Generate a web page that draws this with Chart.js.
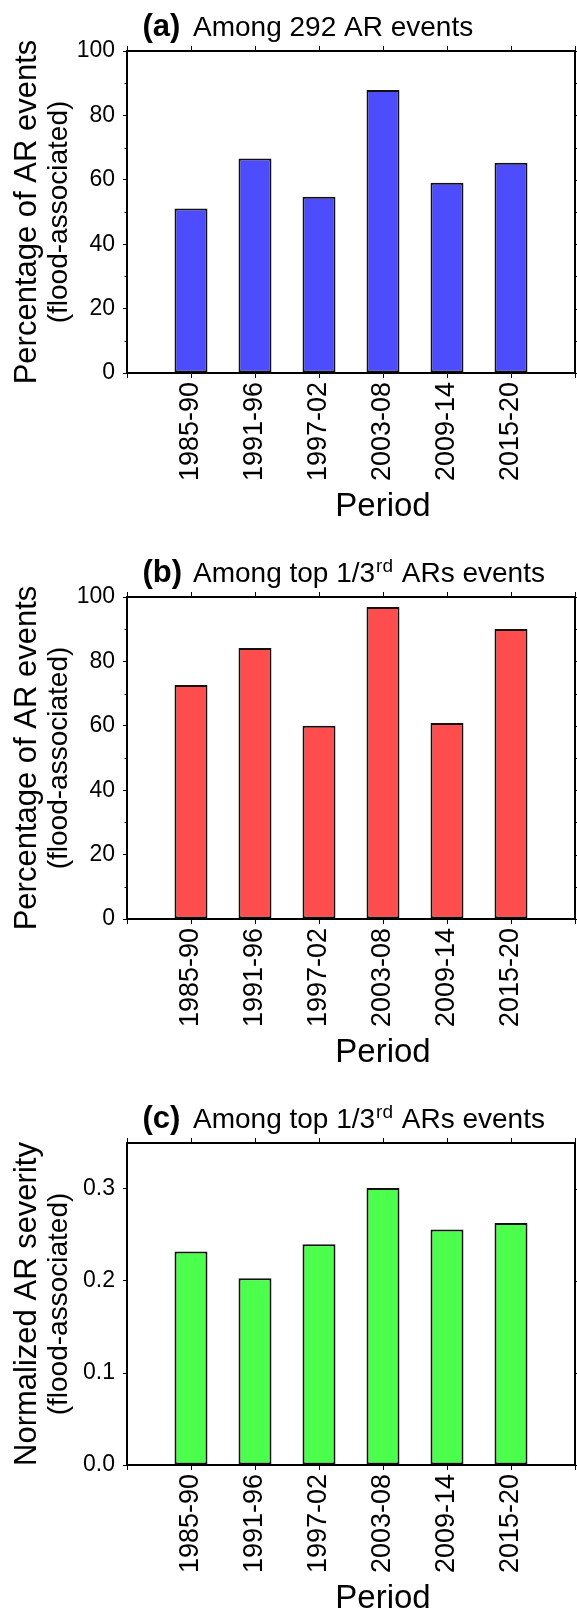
<!DOCTYPE html>
<html>
<head>
<meta charset="utf-8">
<script src="https://cdn.jsdelivr.net/npm/chart.js@4.4.1/dist/chart.umd.min.js"></script>
<style>
body{margin:0;background:#fff}
canvas{display:block}
</style>
</head>
<body>
<canvas id="chartA" width="577" height="546"></canvas>
<canvas id="chartB" width="577" height="546"></canvas>
<canvas id="chartC" width="577" height="522"></canvas>
<script>
// values
var periods = ['1985-90', '1991-96', '1997-02', '2003-08', '2009-14', '2015-20']
var pctAllAR = [51.1, 66.6, 54.7, 87.9, 59.1, 65.3]
var pctTopAR = [72.7, 84.2, 60.0, 96.9, 60.9, 90.1]
var severityTopAR = [0.232, 0.203, 0.240, 0.301, 0.256, 0.263]
var pctTicks = [0, 20, 40, 60, 80, 100]
var pctMinor = [10, 30, 50, 70, 90]
var sevTicks = [0, 0.1, 0.2, 0.3]

var FONT = "'Liberation Sans', Arial, Helvetica, sans-serif"

// frame, extra ticks and all the GMT style text
var deco = {
    id: 'deco',
    afterDraw: function (chart) {
        var ctx = chart.ctx, a = chart.chartArea
        var xs = chart.scales.x, ys = chart.scales.y
        var o = chart.options.plugins.deco
        ctx.save()
        ctx.strokeStyle = '#000'
        ctx.lineWidth = 2
        ctx.beginPath()
        ctx.moveTo(a.left - 1, a.top)
        ctx.lineTo(a.right, a.top)
        ctx.lineTo(a.right, a.bottom + 1)
        ctx.stroke()

        ctx.lineWidth = 1
        ctx.beginPath()
        for (var v = 0; v <= 7; v++) {
            var px = Math.round(xs.getPixelForValue(v)) + 0.5
            ctx.moveTo(px, a.top)
            ctx.lineTo(px, a.top - 5)
        }
        o.minor.forEach(function (m) {
            var py = Math.round(ys.getPixelForValue(m)) + 0.5
            ctx.moveTo(a.left - 2.5, py)
            ctx.lineTo(a.left, py)
        })
        o.minor.concat(o.major).forEach(function (m) {
            var py = Math.round(ys.getPixelForValue(m)) + 0.5
            ctx.moveTo(a.right, py)
            ctx.lineTo(a.right + 3, py)
        })
        ctx.stroke()

        // panel title
        ctx.fillStyle = '#000'
        ctx.textBaseline = 'alphabetic'
        ctx.textAlign = 'left'
        ctx.font = 'bold 31px ' + FONT
        ctx.fillText(o.tag, 142.5, 36)
        var x = 193
        o.title.forEach(function (part) {
            if (typeof part == 'object') {
                ctx.font = '19px ' + FONT
                ctx.fillText(part.sup, x + 1, 26)
                x += ctx.measureText(part.sup).width + 2
            } else {
                ctx.font = '28px ' + FONT
                ctx.fillText(part, x, 36)
                x += ctx.measureText(part).width
            }
        })

        // y axis title, two lines
        var cy = (a.top + a.bottom) / 2
        ctx.save()
        ctx.translate(36, cy)
        ctx.rotate(-Math.PI / 2)
        ctx.textAlign = 'center'
        ctx.font = '31px ' + FONT
        ctx.fillText(o.ytitle, 0, 0)
        ctx.restore()
        ctx.save()
        ctx.translate(67, cy)
        ctx.rotate(-Math.PI / 2)
        ctx.textAlign = 'center'
        ctx.font = '28px ' + FONT
        ctx.fillText('(flood-associated)', 0, 0)
        ctx.restore()

        // x axis title
        ctx.textAlign = 'center'
        ctx.font = '33px ' + FONT
        ctx.fillText('Period', xs.getPixelForValue(4), 516)
        ctx.restore()
    }
}

function makePanel(id, o) {
    var h = document.getElementById(id).height
    return new Chart(document.getElementById(id), {
        type: 'bar',
        data: {
            datasets: [{
                data: o.values.map(function (v, i) { return { x: i + 1, y: v } }),
                backgroundColor: o.color,
                borderColor: '#111',
                borderWidth: 2,
                borderSkipped: false,
                barPercentage: 0.515,
                categoryPercentage: 1
            }]
        },
        options: {
            responsive: false,
            animation: false,
            layout: { padding: { top: 51, right: 2, left: 0, bottom: 0 } },
            plugins: {
                legend: { display: false },
                tooltip: { enabled: false },
                deco: o.deco
            },
            scales: {
                x: {
                    type: 'linear', min: 0, max: 7, offset: false,
                    ticks: {
                        stepSize: 1, autoSkip: false, minRotation: 90, maxRotation: 90,
                        padding: 4, color: '#000', font: { family: FONT, size: 27 },
                        callback: function (v) { return periods[v - 1] || '' }
                    },
                    grid: { offset: false, drawOnChartArea: false, drawTicks: true, tickLength: 5, tickColor: '#000', tickWidth: 1 },
                    border: { display: true, color: '#000', width: 2 },
                    afterFit: function (s) { s.height = h - 373; s.paddingLeft = 0; s.paddingRight = 0 }
                },
                y: {
                    min: 0, max: o.max,
                    afterBuildTicks: function (s) { s.ticks = o.deco.major.map(function (v) { return { value: v } }) },
                    ticks: {
                        padding: 8, color: '#000', font: { family: FONT, size: 23 },
                        callback: o.fmt
                    },
                    grid: { drawOnChartArea: false, drawTicks: true, tickLength: 4, tickColor: '#000', tickWidth: 1 },
                    border: { display: true, color: '#000', width: 2 },
                    afterFit: function (s) { s.width = 127; s.paddingTop = 0; s.paddingBottom = 0 }
                }
            }
        },
        plugins: [deco]
    })
}

var topTitle = ['Among top 1/3', { sup: 'rd' }, ' ARs events']

makePanel('chartA', {
    values: pctAllAR, color: 'rgb(77,77,255)', max: 100,
    fmt: function (v) { return String(v) },
    deco: { tag: '(a)', title: ['Among 292 AR events'], ytitle: 'Percentage of AR events', major: pctTicks, minor: pctMinor }
})
makePanel('chartB', {
    values: pctTopAR, color: 'rgb(255,77,77)', max: 100,
    fmt: function (v) { return String(v) },
    deco: { tag: '(b)', title: topTitle, ytitle: 'Percentage of AR events', major: pctTicks, minor: pctMinor }
})
makePanel('chartC', {
    values: severityTopAR, color: 'rgb(77,255,77)', max: 0.35,
    fmt: function (v) { return v.toFixed(1) },
    deco: { tag: '(c)', title: topTitle, ytitle: 'Normalized AR severity', major: sevTicks, minor: [] }
})
</script>
</body>
</html>
